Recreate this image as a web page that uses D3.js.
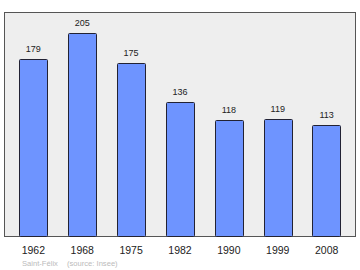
<!DOCTYPE html>
<html>
<head>
<meta charset="utf-8">
<script src="https://cdn.jsdelivr.net/npm/d3@7"></script>
<style>
  body { margin: 0; background: #fff; }
  svg { display: block; font-family: "Liberation Sans", Arial, sans-serif; }
</style>
</head>
<body>
<div id="chart"></div>
<script>
var years = ["1962", "1968", "1975", "1982", "1990", "1999", "2008"];
var population = [179, 205, 175, 136, 118, 119, 113];
var placeName = "Saint-Félix";
var sourceText = "(source: Insee)";

var width = 360,
    height = 270;

var frame = {left: 4.5, top: 12.5, right: 355.5, bottom: 236.5};

var svg = d3.select("#chart").append("svg")
    .attr("width", width)
    .attr("height", height);

// plot background
svg.append("rect")
    .attr("x", frame.left)
    .attr("y", frame.top)
    .attr("width", frame.right - frame.left)
    .attr("height", frame.bottom - frame.top)
    .attr("fill", "#eeeeee")
    .attr("stroke", "#555")
    .attr("stroke-width", 1);

var x = d3.scaleBand()
    .domain(years)
    .range([frame.left + 0.5, frame.right - 0.5])
    .paddingInner(0.42)
    .paddingOuter(0.29);

var y = d3.scaleLinear()
    .domain([0, 226])
    .range([frame.bottom, frame.top]);

var bars = svg.selectAll("g.bar")
    .data(population)
    .enter().append("g")
    .attr("class", "bar");

bars.append("rect")
    .attr("x", function(d, i) { return Math.round(x(years[i])) + 0.5; })
    .attr("y", function(d) { return Math.round(y(d)) + 0.5; })
    .attr("width", Math.round(x.bandwidth()))
    .attr("height", function(d) { return frame.bottom - Math.round(y(d)) - 0.5; })
    .attr("rx", 1)
    .attr("fill", "#6e94ff")
    .attr("stroke", "#223")
    .attr("stroke-width", 1);

bars.append("text")
    .attr("x", function(d, i) { return x(years[i]) + x.bandwidth() / 2; })
    .attr("y", function(d) { return y(d) - 7; })
    .attr("text-anchor", "middle")
    .attr("font-size", "9px")
    .attr("fill", "#222")
    .text(function(d) { return d; });

// year labels
svg.selectAll("text.year")
    .data(years)
    .enter().append("text")
    .attr("class", "year")
    .attr("x", function(d) { return x(d) + x.bandwidth() / 2; })
    .attr("y", 254)
    .attr("text-anchor", "middle")
    .attr("font-size", "10.5px")
    .attr("fill", "#222")
    .text(function(d) { return d; });

svg.append("text")
    .attr("x", 22)
    .attr("y", 265.5)
    .attr("font-size", "7.6px")
    .attr("fill", "#bbb")
    .text(placeName);

svg.append("text")
    .attr("x", 67)
    .attr("y", 265.5)
    .attr("font-size", "7.6px")
    .attr("fill", "#bbb")
    .text(sourceText);
</script>
</body>
</html>
